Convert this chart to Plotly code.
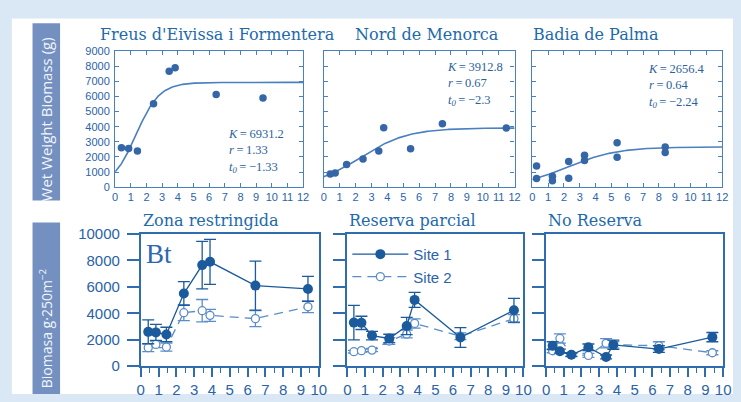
import numpy as np
import plotly.graph_objects as go

# ---------------- data ----------------
# Upper row: wet-weight biomass vs. years of protection, with logistic fits
FREUS_T = [0.40, 0.86, 1.42, 2.45, 3.45, 3.83, 6.45, 9.44]
FREUS_B = [2600, 2560, 2390, 5520, 7670, 7900, 6130, 5900]
MENORCA_T = [0.41, 0.72, 1.44, 2.47, 3.46, 3.77, 5.46, 7.46, 11.48]
MENORCA_B = [870, 930, 1500, 1860, 2390, 3930, 2540, 4200, 3910]
PALMA_T = [0.27, 0.27, 1.27, 1.27, 2.30, 2.30, 3.30, 3.30, 5.36, 5.36, 8.40, 8.40]
PALMA_B = [1400, 570, 720, 430, 1690, 590, 2110, 1760, 2940, 1970, 2660, 2300]

SITE_NAMES = ["Freus d'Eivissa i Formentera", "Nord de Menorca", "Badia de Palma"]
FIT_K = [6931.2, 3912.8, 2656.4]
FIT_R = [1.33, 0.67, 0.64]
FIT_T0 = [-1.33, -2.3, -2.24]

# Lower row: mean biomass (g per 250 m2) with error bars, two sites per zone
ZONE_NAMES = ["Zona restringida", "Reserva parcial", "No Reserva"]

ZR_T = [0.42, 0.85, 1.44, 2.42, 3.45, 3.89, 6.44, 9.39]
ZR_S1 = [2600, 2560, 2400, 5500, 7650, 7900, 6100, 5850]
ZR_S1_ERR = [900, 600, 550, 900, 1800, 1700, 1850, 950]
ZR_S2 = [1400, 1650, 1450, 4050, 4200, 3850, 3600, 4500]
ZR_S2_ERR = [300, 250, 300, 600, 850, 450, 600, 450]

RP_T = [0.37, 0.80, 1.40, 2.38, 3.37, 3.82, 6.42, 9.46]
RP_S1 = [3300, 3280, 2320, 2100, 3040, 5020, 2170, 4230]
RP_S1_ERR = [1300, 500, 320, 320, 650, 570, 750, 900]
RP_S2 = [1100, 1180, 1220, 1910, 2440, 3240, 2270, 3600]
RP_S2_ERR = [100, 120, 120, 250, 300, 350, 250, 300]

NR_T = [0.37, 0.78, 1.43, 2.39, 3.39, 3.80, 6.37, 9.39]
NR_S1 = [1550, 1140, 870, 1430, 700, 1620, 1300, 2200]
NR_S1_ERR = [300, 150, 150, 250, 150, 350, 250, 350]
NR_S2 = [1170, 2100, 870, 820, 1740, 1620, 1550, 1020]
NR_S2_ERR = [150, 350, 100, 150, 350, 250, 300, 150]

# ---------------- styling ----------------
W, H = 741, 402
OUTER_BG = "#d9e8f4"
SIDEBAR = "#7490c1"
TITLE_C = "#1d6aac"
TICK_C = "#2a63a8"
BOX_C = "#4a80c0"
AXIS_C = "#2f6db0"
DOT_C = "#3566a8"
S1_C = "#1b5a9c"
S2_C = "#5b8dc9"


def fx(p):
    return p / W


def fy(p):
    return 1 - p / H


fig = go.Figure()

top_x = [(113, 304), (325, 519), (537, 730)]
top_y = (44, 186)
bot_x = [(139, 320), (349, 528), (551, 731)]
bot_y = (235, 373)

# ---- upper row: scatter + logistic curve ----
t_curve = np.linspace(0, 12, 241)
top_data = [(FREUS_T, FREUS_B), (MENORCA_T, MENORCA_B), (PALMA_T, PALMA_B)]
for i, (tt, bb) in enumerate(top_data):
    ax = "" if i == 0 else str(i + 1)
    k, r, t0 = FIT_K[i], FIT_R[i], FIT_T0[i]
    curve = k / (1 + np.exp(-r * (t_curve + t0)))
    fig.add_trace(go.Scatter(x=t_curve, y=curve, mode="lines",
                             line=dict(color=BOX_C, width=1.6),
                             xaxis="x" + ax, yaxis="y" + ax, showlegend=False,
                             hoverinfo="skip"))
    fig.add_trace(go.Scatter(x=tt, y=bb, mode="markers",
                             marker=dict(color=DOT_C, size=7.5),
                             xaxis="x" + ax, yaxis="y" + ax, showlegend=False))

# ---- lower row: two sites with error bars ----
bot_data = [
    (ZR_T, ZR_S1, ZR_S1_ERR, ZR_S2, ZR_S2_ERR),
    (RP_T, RP_S1, RP_S1_ERR, RP_S2, RP_S2_ERR),
    (NR_T, NR_S1, NR_S1_ERR, NR_S2, NR_S2_ERR),
]
for j, (tt, s1, e1, s2, e2) in enumerate(bot_data):
    ax = str(j + 4)
    show = (j == 1)
    fig.add_trace(go.Scatter(
        x=tt, y=s2, mode="lines+markers", name="Site 2",
        line=dict(color=S2_C, width=1.3, dash="9px,6px"),
        marker=dict(symbol="circle", size=8, color="white",
                    line=dict(color=S2_C, width=1.3)),
        error_y=dict(type="data", array=e2, color=S2_C, thickness=1.3, width=6),
        xaxis="x" + ax, yaxis="y" + ax, showlegend=show, legendrank=2))
    fig.add_trace(go.Scatter(
        x=tt, y=s1, mode="lines+markers", name="Site 1",
        line=dict(color=S1_C, width=1.3),
        marker=dict(symbol="circle", size=10, color=S1_C),
        error_y=dict(type="data", array=e1, color=S1_C, thickness=1.3, width=6),
        xaxis="x" + ax, yaxis="y" + ax, showlegend=show, legendrank=1))

layout = dict(
    width=W, height=H,
    margin=dict(l=0, r=0, t=0, b=0),
    paper_bgcolor=OUTER_BG,
    plot_bgcolor="white",
    showlegend=True,
    legend=dict(x=fx(349), y=fy(239), xanchor="left", yanchor="top",
                bgcolor="rgba(0,0,0,0)", itemwidth=56, tracegroupgap=0,
                font=dict(family="Liberation Sans", size=15, color=TICK_C)),
)

tick_font_top = dict(family="Liberation Sans", size=11, color=TICK_C)
tick_font_bot = dict(family="Liberation Sans", size=15, color=TICK_C)

for i in range(3):
    ax = "" if i == 0 else str(i + 1)
    layout["xaxis" + ax] = dict(
        domain=[fx(top_x[i][0]), fx(top_x[i][1])], anchor="y" + ax,
        range=[0, 12], tick0=0, dtick=1, ticks="inside", ticklen=4,
        tickcolor=BOX_C, showline=True, linecolor=BOX_C, linewidth=1.3,
        mirror="allticks", showgrid=False, zeroline=False,
        tickfont=tick_font_top, fixedrange=True)
    layout["yaxis" + ax] = dict(
        domain=[fy(top_y[1]), fy(top_y[0])], anchor="x" + ax,
        range=[0, 9000], tick0=0, dtick=1000, ticks="inside", ticklen=4,
        tickcolor=BOX_C, showline=True, linecolor=BOX_C, linewidth=1.3,
        mirror="allticks", showgrid=False, zeroline=False,
        showticklabels=(i == 0), tickfont=tick_font_top, fixedrange=True,
        tickformat="d", ticklabelstandoff=2)

for j in range(3):
    ax = str(j + 4)
    layout["xaxis" + ax] = dict(
        domain=[fx(bot_x[j][0]), fx(bot_x[j][1])], anchor="y" + ax,
        range=[0, 10], tick0=0, dtick=1, ticks="outside", ticklen=9,
        tickwidth=1.5, tickcolor=AXIS_C,
        minor=dict(dtick=0.5, ticks="outside", ticklen=5, tickcolor=AXIS_C,
                   tickwidth=1.3),
        showline=True, linecolor=AXIS_C, linewidth=1.8, mirror=True,
        showgrid=False, zeroline=False, tickfont=tick_font_bot, fixedrange=True)
    layout["yaxis" + ax] = dict(
        domain=[fy(bot_y[1]), fy(bot_y[0])], anchor="x" + ax,
        range=[0, 10000], tick0=0, dtick=2000, ticks="outside", ticklen=12,
        tickwidth=1.5, tickcolor=AXIS_C,
        showline=True, linecolor=AXIS_C, linewidth=1.8, mirror=True,
        showgrid=False, zeroline=False, showticklabels=(j == 0),
        tickfont=tick_font_bot, fixedrange=True, tickformat="d",
        ticklabelstandoff=4)

# background panel and side bands
shapes = [
    dict(type="rect", xref="paper", yref="paper", x0=fx(8), x1=1, y0=0, y1=fy(10),
         fillcolor="white", line=dict(width=0), layer="below"),
    dict(type="rect", xref="paper", yref="paper", x0=fx(29), x1=fx(57),
         y0=fy(200), y1=fy(15), fillcolor=SIDEBAR, line=dict(width=0), layer="below"),
    dict(type="rect", xref="paper", yref="paper", x0=fx(29), x1=fx(57),
         y0=0, y1=fy(223), fillcolor=SIDEBAR, line=dict(width=0), layer="below"),
]
layout["shapes"] = shapes

ann = []
# side band labels
ann.append(dict(text="Wet Weight Biomass (g)", x=fx(43), y=fy(115), textangle=-90,
                xanchor="center",
                font=dict(family="Open Sans", size=15, color="#f2f6fb")))
ann.append(dict(text="Biomasa g·250m<sup>−2</sup>", x=fx(43), y=fy(333), textangle=-90,
                xanchor="center",
                font=dict(family="Open Sans", size=14, color="#f2f6fb")))

# panel titles
top_title_x = [217, 430, 602]
for i, name in enumerate(SITE_NAMES):
    ann.append(dict(text=name, x=fx(top_title_x[i]), y=fy(27), xanchor="center",
                    font=dict(family="DejaVu Serif", size=16, color=TITLE_C)))
for j, name in enumerate(ZONE_NAMES):
    ann.append(dict(text=name, x=fx(bot_x[j][0]), y=fy(221), xanchor="left",
                    font=dict(family="DejaVu Serif", size=16, color=TITLE_C)))


# fitted-parameter labels
def fmt(v):
    return str(v).replace("-", "\u2212")


param_pos = [(226, 148), (448, 78), (653, 80)]
for i in range(3):
    x0, y0 = param_pos[i]
    text = "<br>".join([
        f"<i>K</i>\u2009=\u2009{fmt(FIT_K[i])}",
        f"<i>r</i>\u2009=\u2009{fmt(FIT_R[i])}",
        f"<i>t</i><sub><i>0</i></sub>\u2009=\u2009{fmt(FIT_T0[i])}",
    ])
    ann.append(dict(text=text, x=fx(x0), y=fy(y0), xanchor="left", align="left",
                    font=dict(family="Liberation Serif", size=12.5, color="#2b5f9e")))

ann.append(dict(text="Bt", x=fx(142), y=fy(256), xanchor="left",
                font=dict(family="Liberation Serif", size=27, color="#2c68ad")))

for a in ann:
    a.setdefault("xref", "paper")
    a.setdefault("yref", "paper")
    a.setdefault("yanchor", "middle")
    a["showarrow"] = False
layout["annotations"] = ann

fig.update_layout(**layout)
fig.write_html("out.html")
